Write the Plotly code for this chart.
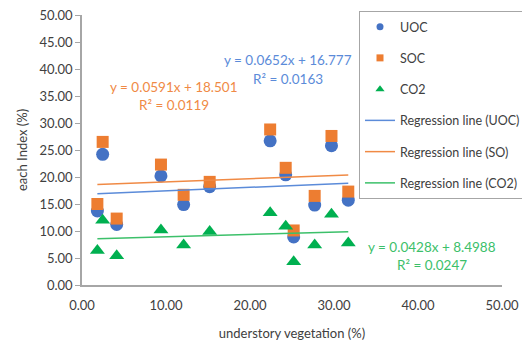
import plotly.graph_objects as go

# Data
veg = [1.83, 2.46, 4.13, 9.4, 12.1, 15.2, 22.4, 24.25, 25.2, 27.7, 29.7, 31.7]
uoc = [13.7, 24.2, 11.2, 20.2, 14.9, 18.2, 26.7, 20.4, 8.9, 14.8, 25.8, 15.7]
soc = [15.0, 26.5, 12.3, 22.3, 16.7, 19.1, 28.8, 21.7, 10.1, 16.5, 27.6, 17.3]
co2 = [6.4, 12.0, 5.4, 10.2, 7.4, 9.9, 13.4, 10.9, 4.3, 7.4, 13.1, 7.8]

# Regression coefficients (slope, intercept, R2) as shown on the chart
reg_uoc = [0.0652, 16.777, 0.0163]
reg_soc = [0.0591, 18.501, 0.0119]
reg_co2 = [0.0428, 8.4988, 0.0247]

tick_vals = [0, 10, 20, 30, 40, 50]
ytick_vals = [0, 5, 10, 15, 20, 25, 30, 35, 40, 45, 50]

BLUE = "#4472C4"
ORANGE = "#ED7D31"
GREEN = "#00B050"
FONT = "Lato"

fig = go.Figure()

# Data traces (plot)
fig.add_trace(go.Scatter(x=veg, y=uoc, mode="markers", showlegend=False,
                         marker=dict(symbol="circle", size=13, color=BLUE)))
fig.add_trace(go.Scatter(x=veg, y=soc, mode="markers", showlegend=False,
                         marker=dict(symbol="square", size=12, color=ORANGE)))
fig.add_trace(go.Scatter(x=veg, y=co2, mode="markers", showlegend=False,
                         marker=dict(symbol="triangle-up", size=13, color=GREEN)))

xmin, xmax = min(veg), max(veg)
for coef, col in [(reg_uoc, "#5B8BD9"), (reg_soc, "#F08A45"), (reg_co2, "#3CC06A")]:
    m, b, _ = coef
    fig.add_trace(go.Scatter(x=[xmin, xmax], y=[m * xmin + b, m * xmax + b], mode="lines",
                             showlegend=False, line=dict(color=col, width=1.5)))

# Legend entries
leg = [
    ("UOC", dict(mode="markers", marker=dict(symbol="circle", size=7, color=BLUE))),
    ("SOC", dict(mode="markers", marker=dict(symbol="square", size=7, color=ORANGE))),
    ("CO2", dict(mode="markers", marker=dict(symbol="triangle-up", size=8, color=GREEN))),
    ("Regression line (UOC)", dict(mode="lines", line=dict(color="#5B8BD9", width=1.5))),
    ("Regression line (SO)", dict(mode="lines", line=dict(color="#F08A45", width=1.5))),
    ("Regression line (CO2)", dict(mode="lines", line=dict(color="#3CC06A", width=1.5))),
]
for i, (name, kw) in enumerate(leg):
    fig.add_trace(go.Scatter(x=[None], y=[None], name=name, legendgroup=f"g{i}", **kw))

# equation label positions (x, y of first line, y of second line) in data units
annos = [
    (reg_uoc, 24.5, 41.7, 38.2, "#5B8BD9"),
    (reg_soc, 10.9, 36.7, 33.3, "#F08A45"),
    (reg_co2, 41.7, 7.1, 3.7, "#3CC06A"),
]
annotations = []
for c, x, y1, y2, col in annos:
    annotations.append(dict(x=x, y=y1, xref="x", yref="y", text=f"y = {c[0]}x + {c[1]}",
                            showarrow=False, font=dict(family=FONT, size=13.5, color=col)))
    annotations.append(dict(x=x, y=y2, xref="x", yref="y", text=f"R² = {c[2]}",
                            showarrow=False, font=dict(family=FONT, size=13.5, color=col)))

# y-axis title
annotations.append(dict(x=(22 - 82) / 420, y=0.5, xref="paper", yref="paper",
                        text="each Index (%)", textangle=-90, showarrow=False,
                        xanchor="center", yanchor="middle",
                        font=dict(family=FONT, size=13, color="#404040")))

fig.update_layout(
    width=522, height=347,
    margin=dict(l=82, r=20, t=15, b=62, autoexpand=False),
    paper_bgcolor="white", plot_bgcolor="white",
    font=dict(family=FONT, size=13, color="#404040"),
    annotations=annotations,
    showlegend=True,
    legend=dict(x=(359 - 82) / 420, y=1 + 4 / 270, xanchor="left", yanchor="top",
                bordercolor="#A6A6A6", borderwidth=1, bgcolor="white",
                tracegroupgap=12, traceorder="grouped", maxheight=300,
                font=dict(family=FONT, size=12.5, color="#404040")),
    xaxis=dict(range=[0, 50], tickvals=tick_vals, tickformat=".2f",
               showgrid=False, zeroline=False, showline=True, linecolor="#A6A6A6", linewidth=1.5,
               ticks="outside", ticklen=8, tickcolor="rgba(0,0,0,0)",
               title=dict(text="understory vegetation (%)", font=dict(size=13), standoff=17)),
    yaxis=dict(range=[0, 50], tickvals=ytick_vals, tickformat=".2f",
               showgrid=False, zeroline=False, showline=True, linecolor="#A6A6A6", linewidth=1.5,
               ticks="outside", ticklen=5, tickcolor="#A6A6A6"),
)

fig.write_html("out.html", config={"displayModeBar": False},
               post_script="document.body.style.margin='0';")
